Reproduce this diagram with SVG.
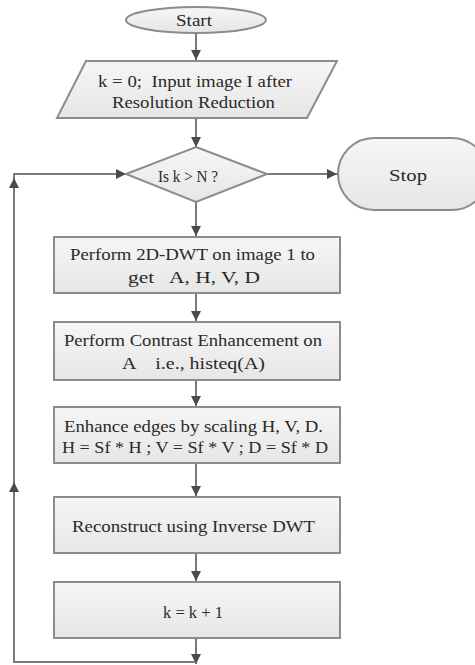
<svg xmlns="http://www.w3.org/2000/svg" width="475" height="665" viewBox="0 0 475 665">
<style>
.shape{stroke:#8c8c8c;stroke-width:2;fill:url(#g)}
.t{font-family:"Liberation Serif","Times New Roman",serif;font-size:17.5px;fill:#2a2a2a;white-space:pre}
.c{fill:none;stroke:#7a7a7a;stroke-width:2}
</style>
<defs>
<linearGradient id="g" x1="0" y1="0" x2="0" y2="1">
<stop offset="0" stop-color="#f6f6f6"/>
<stop offset="1" stop-color="#e6e6e6"/>
</linearGradient>
<marker id="ah" markerUnits="userSpaceOnUse" markerWidth="10" markerHeight="10" refX="10" refY="5" orient="auto" viewBox="0 0 10 10">
<path d="M0,0 L10,5 L0,10 z" fill="#4a4a4a"/>
</marker>
</defs>
<rect width="475" height="665" fill="#fff"/>
<g id="connectors">
<path class="c" d="M196,33 V60" marker-end="url(#ah)"/>
<path class="c" d="M196,118 V147" marker-end="url(#ah)"/>
<path class="c" d="M196,202 V236" marker-end="url(#ah)"/>
<path class="c" d="M196,293 V321" marker-end="url(#ah)"/>
<path class="c" d="M196,380 V406" marker-end="url(#ah)"/>
<path class="c" d="M196,463 V496" marker-end="url(#ah)"/>
<path class="c" d="M196,553 V581" marker-end="url(#ah)"/>
<path class="c" d="M196,638 V664" marker-end="url(#ah)"/>
<path class="c" d="M267,174 H337" marker-end="url(#ah)"/>
<path class="c" d="M196,662 H14 V482" marker-end="url(#ah)"/>
<path class="c" d="M14,482 V178" marker-end="url(#ah)"/>
<path class="c" d="M14,178 V174 H126" marker-end="url(#ah)"/>
</g>
<g id="start">
<ellipse class="shape" cx="196" cy="20" rx="70" ry="13"/>
<text class="t" x="176" y="26" textLength="36" lengthAdjust="spacingAndGlyphs">Start</text>
</g>
<g id="input">
<polygon class="shape" points="86,61 337,61 307,118 57,118"/>
<text class="t" x="98" y="87" textLength="194" lengthAdjust="spacingAndGlyphs">k = 0;  Input image I after</text>
<text class="t" x="112" y="108" textLength="163" lengthAdjust="spacingAndGlyphs">Resolution Reduction</text>
</g>
<g id="decision">
<polygon class="shape" points="196,147 267,174 196,202 126,174"/>
<text class="t" x="158" y="182" textLength="60" lengthAdjust="spacingAndGlyphs">Is k &gt; N ?</text>
</g>
<g id="stop">
<rect class="shape" x="338" y="138" width="150" height="72" rx="36"/>
<text class="t" x="389" y="181" textLength="38" lengthAdjust="spacingAndGlyphs">Stop</text>
</g>
<g id="dwt">
<rect class="shape" x="54" y="237" width="286" height="56"/>
<text class="t" x="70" y="260" textLength="245" lengthAdjust="spacingAndGlyphs">Perform 2D-DWT on image 1 to</text>
<text class="t" x="128" y="283" textLength="132" lengthAdjust="spacingAndGlyphs">get   A, H, V, D</text>
</g>
<g id="contrast">
<rect class="shape" x="54" y="322" width="286" height="58"/>
<text class="t" x="64" y="346" textLength="258" lengthAdjust="spacingAndGlyphs">Perform Contrast Enhancement on</text>
<text class="t" x="122" y="369" textLength="143" lengthAdjust="spacingAndGlyphs">A    i.e., histeq(A)</text>
</g>
<g id="edges">
<rect class="shape" x="54" y="407" width="286" height="56"/>
<text class="t" x="64" y="432" textLength="259" lengthAdjust="spacingAndGlyphs">Enhance edges by scaling H, V, D.</text>
<text class="t" x="62" y="453" textLength="266" lengthAdjust="spacingAndGlyphs">H = Sf * H ; V = Sf * V ; D = Sf * D</text>
</g>
<g id="reconstruct">
<rect class="shape" x="54" y="497" width="286" height="56"/>
<text class="t" x="72" y="532" textLength="243" lengthAdjust="spacingAndGlyphs">Reconstruct using Inverse DWT</text>
</g>
<g id="increment">
<rect class="shape" x="54" y="582" width="286" height="56"/>
<text class="t" x="163" y="618" textLength="60" lengthAdjust="spacingAndGlyphs">k = k + 1</text>
</g>
</svg>
